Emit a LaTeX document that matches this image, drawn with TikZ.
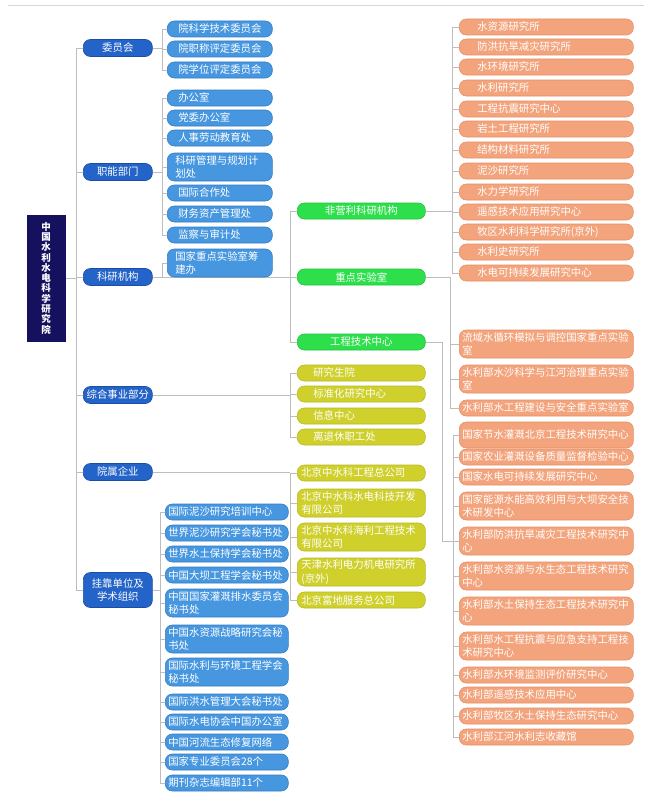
\documentclass[tikz,border=0pt]{standalone}
\usepackage{fontspec}
\newfontfamily\cjk{Noto Sans CJK SC}
\usetikzlibrary{backgrounds}
\definecolor{rootfill}{HTML}{15115E}
\definecolor{lonefill}{HTML}{2463C8}
\definecolor{loneedge}{HTML}{1A4EA6}
\definecolor{btwofill}{HTML}{4797E0}
\definecolor{btwoedge}{HTML}{357DC6}
\definecolor{grnfill}{HTML}{2EDF4C}
\definecolor{grnedge}{HTML}{22C23C}
\definecolor{ylwfill}{HTML}{CFD02C}
\definecolor{ylwedge}{HTML}{B8B922}
\definecolor{orgfill}{HTML}{F3A47D}
\definecolor{orgedge}{HTML}{E38E66}
\definecolor{linkc}{HTML}{BDBDBD}
\begin{document}
\begin{tikzpicture}[x=1pt,y=-1pt,
 base/.style={rounded corners=7pt,text=white,inner ysep=0pt,anchor=west,line width=0.6pt,font=\cjk\fontsize{10.4}{13.5}\selectfont},
 lone/.style={base,fill=lonefill,draw=loneedge,text width=69pt,inner xsep=0pt,align=center,minimum height=17pt},
 btwo/.style={base,fill=btwofill,draw=btwoedge,text width=89pt,inner xsep=8pt,align=left,minimum height=16pt},
 bthree/.style={base,fill=btwofill,draw=btwoedge,text width=117pt,inner xsep=3pt,align=left,minimum height=16pt},
 grn/.style={base,fill=grnfill,draw=grnedge,text width=128pt,inner xsep=0pt,align=center,minimum height=16pt},
 ylw/.style={base,fill=ylwfill,draw=ylwedge,text width=120pt,inner xsep=4pt,align=left,minimum height=16pt},
 org/.style={base,fill=orgfill,draw=orgedge,text width=168pt,inner xsep=3pt,align=left,minimum height=16pt},
 twol/.style={minimum height=28pt},
 ind/.style={execute at begin node={\hspace*{#1}}},
 link/.style={draw=linkc,line width=0.7pt},
]
\useasboundingbox (0,0) rectangle (652,800);
\draw[draw=linkc!60,line width=0.5pt] (8,5) -- (644,5);

% root
\node[draw=rootfill,fill=rootfill,minimum width=38pt,minimum height=126pt,inner sep=0pt,text=white,align=center,font=\cjk\bfseries\fontsize{9.5}{10.3}\selectfont] (root) at (46,278) {中\\国\\水\\利\\水\\电\\科\\学\\研\\究\\院};

% level 1
\node[lone] (La) at (83,48) {委员会};
\node[lone] (Lb) at (83,172) {职能部门};
\node[lone] (Lc) at (83,277) {科研机构};
\node[lone] (Ld) at (83,395) {综合事业部分};
\node[lone] (Le) at (83,472) {院属企业};
\node[lone,minimum height=35pt] (Lf) at (83,590) {挂靠单位及\\学术组织};

% blue level 2
\node[btwo,ind=3pt] (a1) at (167,29) {院科学技术委员会};
\node[btwo,ind=3pt] (a2) at (167,49) {院职称评定委员会};
\node[btwo,ind=3pt] (a3) at (167,70) {院学位评定委员会};
\node[btwo,ind=3pt] (b1) at (167,98) {办公室};
\node[btwo,ind=3pt] (b2) at (167,118) {党委办公室};
\node[btwo,ind=3pt] (b3) at (167,138) {人事劳动教育处};
\node[btwo,twol] (b4) at (167,167) {科研管理与规划计\\划处};
\node[btwo,ind=3pt] (b5) at (167,193) {国际合作处};
\node[btwo,ind=3pt] (b6) at (167,214) {财务资产管理处};
\node[btwo,ind=3pt] (b7) at (167,235) {监察与审计处};
\node[btwo,twol] (c0) at (167,263) {国家重点实验室筹\\建办};

% green
\node[grn] (g1) at (297,211) {非营利科研机构};
\node[grn] (g2) at (297,277) {重点实验室};
\node[grn] (g3) at (297,342) {工程技术中心};

% yellow
\node[ylw,ind=12pt] (y1) at (297,373) {研究生院};
\node[ylw,ind=12pt] (y2) at (297,394) {标准化研究中心};
\node[ylw,ind=12pt] (y3) at (297,416) {信息中心};
\node[ylw,ind=12pt] (y4) at (297,437) {离退休职工处};
\node[ylw] (y5) at (297,473) {北京中水科工程总公司};
\node[ylw,twol] (y6) at (297,503) {北京中水科水电科技开发\\有限公司};
\node[ylw,twol] (y7) at (297,537) {北京中水科海利工程技术\\有限公司};
\node[ylw,twol] (y8) at (297,572) {天津水利电力机电研究所\\(京外)};
\node[ylw] (y9) at (297,600) {北京富地服务总公司};

% blue attached
\node[bthree] (d1) at (165,512) {国际泥沙研究培训中心};
\node[bthree] (d2) at (165,533) {世界泥沙研究学会秘书处};
\node[bthree] (d3) at (165,554) {世界水土保持学会秘书处};
\node[bthree] (d4) at (165,575) {中国大坝工程学会秘书处};
\node[bthree,twol] (d5) at (165,603) {中国国家灌溉排水委员会\\秘书处};
\node[bthree,twol] (d6) at (165,639) {中国水资源战略研究会秘\\书处};
\node[bthree,twol] (d7) at (165,672) {国际水利与环境工程学会\\秘书处};
\node[bthree] (d8) at (165,702) {国际洪水管理大会秘书处};
\node[bthree] (d9) at (165,722) {国际水电协会中国办公室};
\node[bthree] (d10) at (165,742) {中国河流生态修复网络};
\node[bthree] (d11) at (165,762) {国家专业委员会28个};
\node[bthree] (d12) at (165,783) {期刊杂志编辑部11个};

% orange: non-profit institutes
\node[org,ind=15pt] (o1) at (459,27) {水资源研究所};
\node[org,ind=15pt] (o2) at (459,47) {防洪抗旱减灾研究所};
\node[org,ind=15pt] (o3) at (459,67) {水环境研究所};
\node[org,ind=15pt] (o4) at (459,88) {水利研究所};
\node[org,ind=15pt] (o5) at (459,109) {工程抗震研究中心};
\node[org,ind=15pt] (o6) at (459,129) {岩土工程研究所};
\node[org,ind=15pt] (o7) at (459,150) {结构材料研究所};
\node[org,ind=15pt] (o8) at (459,171) {泥沙研究所};
\node[org,ind=15pt] (o9) at (459,192) {水力学研究所};
\node[org,ind=15pt] (o10) at (459,212) {遥感技术应用研究中心};
\node[org,ind=15pt] (o11) at (459,232) {牧区水利科学研究所(京外)};
\node[org,ind=15pt] (o12) at (459,252) {水利史研究所};
\node[org,ind=15pt] (o13) at (459,273) {水电可持续发展研究中心};

% orange: key labs
\node[org,twol] (k1) at (459,344) {流域水循环模拟与调控国家重点实验\\室};
\node[org,twol] (k2) at (459,379) {水利部水沙科学与江河治理重点实验\\室};
\node[org] (k3) at (459,408) {水利部水工程建设与安全重点实验室};

% orange: engineering centres
\node[org,minimum height=26pt] (e1) at (459,435) {国家节水灌溉北京工程技术研究中心};
\node[org] (e2) at (459,457) {国家农业灌溉设备质量监督检验中心};
\node[org] (e3) at (459,477) {国家水电可持续发展研究中心};
\node[org,twol] (e4) at (459,506) {国家能源水能高效利用与大坝安全技\\术研发中心};
\node[org,twol] (e5) at (459,541) {水利部防洪抗旱减灾工程技术研究中\\心};
\node[org,twol] (e6) at (459,576) {水利部水资源与水生态工程技术研究\\中心};
\node[org,twol] (e7) at (459,611) {水利部水土保持生态工程技术研究中\\心};
\node[org,twol] (e8) at (459,646) {水利部水工程抗震与应急支持工程技\\术研究中心};
\node[org] (e9) at (459,675) {水利部水环境监测评价研究中心};
\node[org] (e10) at (459,695) {水利部遥感技术应用中心};
\node[org] (e11) at (459,716) {水利部牧区水土保持生态研究中心};
\node[org] (e12) at (459,737) {水利部江河水利志收藏馆};

% spine coordinates
\coordinate (s0) at (76,0);
\coordinate (s1) at (162,0);
\coordinate (s2) at (290,0);
\coordinate (s3) at (160,0);
\coordinate (s4) at (452,0);
\coordinate (s5) at (450,0);
\coordinate (s6) at (442,0);
\coordinate (s7) at (453,0);
\coordinate (j1) at (442,541);

\begin{pgfonlayer}{background}
% main spine
\draw[link] (La.west -| s0) -- (Lf.west -| s0);
\draw[link] (root.east) -- (root.east -| s0);
\foreach \n in {La,Lb,Lc,Ld,Le,Lf} \draw[link] (\n.west) -- (\n.west -| s0);
% committees
\draw[link] (La.east) -- (La.east -| s1);
\draw[link] (a1.west -| s1) -- (a3.west -| s1);
\foreach \n in {a1,a2,a3} \draw[link] (\n.west) -- (\n.west -| s1);
% functional departments
\draw[link] (Lb.east) -- (Lb.east -| s1);
\draw[link] (b1.west -| s1) -- (b7.west -| s1);
\foreach \n in {b1,b2,b3,b4,b5,b6,b7} \draw[link] (\n.west) -- (\n.west -| s1);
% research institutions
\draw[link] (Lc.east) -- (g2.west);
\draw[link] (c0.west) -- (c0.west -| s1) -- (Lc.east -| s1);
\draw[link] (g1.west -| s2) -- (g3.west -| s2);
\foreach \n in {g1,g3} \draw[link] (\n.west) -- (\n.west -| s2);
% general services
\draw[link] (Ld.east) -- (Ld.east -| s2);
\draw[link] (y1.west -| s2) -- (y4.west -| s2);
\foreach \n in {y1,y2,y3,y4} \draw[link] (\n.west) -- (\n.west -| s2);
% enterprises
\draw[link] (Le.east) -- (Le.east -| s2);
\draw[link] (y5.west -| s2) -- (y9.west -| s2);
\foreach \n in {y5,y6,y7,y8,y9} \draw[link] (\n.west) -- (\n.west -| s2);
% attached units
\draw[link] (Lf.east) -- (Lf.east -| s3);
\draw[link] (d1.west -| s3) -- (d12.west -| s3);
\foreach \n in {d1,d2,d3,d4,d5,d6,d7,d8,d9,d10,d11,d12} \draw[link] (\n.west) -- (\n.west -| s3);
% non-profit institutes
\draw[link] (g1.east) -- (g1.east -| s4);
\draw[link] (o1.west -| s4) -- (o13.west -| s4);
\foreach \n in {o1,o2,o3,o4,o5,o6,o7,o8,o9,o10,o11,o12,o13} \draw[link] (\n.west) -- (\n.west -| s4);
% key labs
\draw[link] (g2.east) -- (g2.east -| s5) -- (k3.west -| s5);
\foreach \n in {k1,k2,k3} \draw[link] (\n.west) -- (\n.west -| s5);
% engineering centres
\draw[link] (g3.east) -- (g3.east -| s6) -- (j1) -- (j1 -| s7);
\draw[link] (e1.west -| s7) -- (e12.west -| s7);
\foreach \n in {e1,e2,e3,e4,e5,e6,e7,e8,e9,e10,e11,e12} \draw[link] (\n.west) -- (\n.west -| s7);
\end{pgfonlayer}
\end{tikzpicture}
\end{document}
